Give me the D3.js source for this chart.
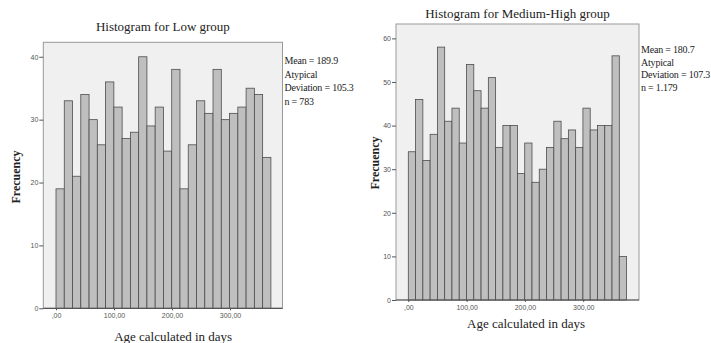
<!DOCTYPE html>
<html>
<head>
<meta charset="utf-8">
<script src="https://cdn.jsdelivr.net/npm/d3@7"></script>
<style>
body { margin: 0; background: #fff; }
svg { display: block; }
.tick-label { font-family: "Liberation Sans", Arial, sans-serif; font-size: 7px; fill: #555; }
.serif { font-family: "Liberation Serif", "Times New Roman", serif; fill: #222; }
</style>
</head>
<body>
<svg id="chart" width="711" height="343"></svg>
<script>
// counts per bin
var lowCounts = [19,33,21,34,30,26,36,32,27,28,40,29,32,25,38,19,26,33,31,38,30,31,32,35,34,24];
var highCounts = [34,46,32,38,58,41,44,36,54,48,44,51,35,40,40,29,36,27,30,35,41,37,39,35,44,39,40,40,56,10];
var lowBinWidth = 14.25;
var highBinWidth = 12.48;
var xTicks = [0, 100, 200, 300];
var xTickLabels = [",00", "100,00", "200,00", "300,00"];
var lowYTicks = [0, 10, 20, 30, 40];
var highYTicks = [0, 10, 20, 30, 40, 50, 60];
var lowStats = ["Mean = 189.9", "Atypical", "Deviation = 105.3", "n = 783"];
var highStats = ["Mean = 180.7", "Atypical", "Deviation = 107.3", "n = 1.179"];
var titles = ["Histogram for Low group", "Histogram for Medium-High group"];

var svg = d3.select('#chart');

drawHist({
    counts: lowCounts, bin: lowBinWidth, yTicks: lowYTicks, stats: lowStats, title: titles[0],
    left: 43.3, right: 282.5, top: 42.3, bottom: 308.3,
    xDomain: [-21.9, 390.5], yMax: 42.3,
    titleY: 31, statsY: 64, statsStep: 13.5, yLabelX: 16, yLabelY: 177, xLabelY: 341
});
drawHist({
    counts: highCounts, bin: highBinWidth, yTicks: highYTicks, stats: highStats, title: titles[1],
    left: 396, right: 639, top: 24, bottom: 300,
    xDomain: [-21.1, 395.7], yMax: 63.3,
    titleY: 18, statsY: 53, statsStep: 12.7, yLabelX: 375, yLabelY: 163, xLabelY: 328
});

function drawHist(cfg) {
    var x = d3.scaleLinear().domain(cfg.xDomain).range([cfg.left, cfg.right]);
    var y = d3.scaleLinear().domain([0, cfg.yMax]).range([cfg.bottom, cfg.top]);
    var g = svg.append('g');

    //plot background
    g.append('rect')
        .attr('x', cfg.left)
        .attr('y', cfg.top)
        .attr('width', cfg.right - cfg.left)
        .attr('height', cfg.bottom - cfg.top)
        .attr('fill', '#f0f0f0')
        .attr('stroke', '#999')
        .attr('stroke-width', 1);

    //bars
    g.selectAll('rect.bar')
        .data(cfg.counts)
        .enter().append('rect')
            .attr('class', 'bar')
            .attr('x', function (d, i) { return x(i * cfg.bin); })
            .attr('y', function (d) { return y(d); })
            .attr('width', function (d, i) { return x((i + 1) * cfg.bin) - x(i * cfg.bin); })
            .attr('height', function (d) { return y(0) - y(d); })
            .attr('fill', '#bfbfbf')
            .attr('stroke', '#4d4d4d')
            .attr('stroke-width', 0.8);

    //axes
    var yAxis = g.append('g')
        .attr('transform', 'translate(' + cfg.left + ',0)')
        .call(d3.axisLeft(y).tickValues(cfg.yTicks).tickSize(4).tickPadding(1).tickFormat(d3.format('d')));
    var xAxis = g.append('g')
        .attr('transform', 'translate(0,' + cfg.bottom + ')')
        .call(d3.axisBottom(x).tickValues(xTicks).tickSize(2).tickPadding(3)
            .tickFormat(function (d, i) { return xTickLabels[i]; }));
    [yAxis, xAxis].forEach(function (a) {
        a.select('.domain').remove();
        a.selectAll('line').attr('stroke', '#555');
        a.selectAll('text').attr('class', 'tick-label').attr('fill', null);
    });
    g.append('line')
        .attr('x1', cfg.left).attr('x2', cfg.right)
        .attr('y1', cfg.bottom).attr('y2', cfg.bottom)
        .attr('stroke', '#555').attr('stroke-width', 1.2);

    //texts
    g.append('text')
        .attr('class', 'serif')
        .attr('x', (cfg.left + cfg.right) / 2)
        .attr('y', cfg.titleY)
        .attr('text-anchor', 'middle')
        .attr('font-size', 13)
        .text(cfg.title);
    g.selectAll('text.stat')
        .data(cfg.stats)
        .enter().append('text')
            .attr('class', 'serif stat')
            .attr('x', cfg.right + 2)
            .attr('y', function (d, i) { return cfg.statsY + i * cfg.statsStep; })
            .attr('font-size', 10)
            .attr('letter-spacing', -0.2)
            .text(function (d) { return d; });
    g.append('text')
        .attr('class', 'serif')
        .attr('transform', 'translate(' + cfg.yLabelX + ',' + cfg.yLabelY + ') rotate(-90)')
        .attr('text-anchor', 'middle')
        .attr('dy', '0.35em')
        .attr('font-size', 12)
        .attr('font-weight', 'bold')
        .text('Frecuency');
    g.append('text')
        .attr('class', 'serif')
        .attr('x', x(202))
        .attr('y', cfg.xLabelY)
        .attr('text-anchor', 'middle')
        .attr('font-size', 13)
        .text('Age calculated in days');
}
</script>
</body>
</html>
